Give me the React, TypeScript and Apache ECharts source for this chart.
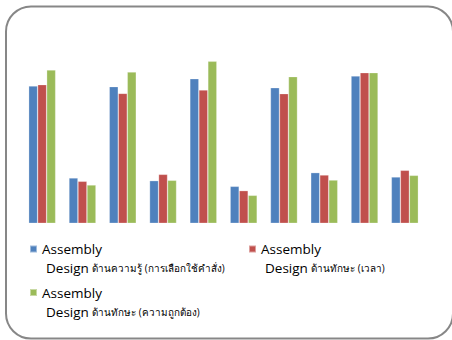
import React, { useEffect, useRef } from "react";
import * as echarts from "echarts";

const categories = ["1", "2", "3", "4", "5", "6", "7", "8", "9", "10"];
const seriesNames = [
  "Assembly Design ด้านความรู้ (การเลือกใช้คำสั่ง)",
  "Assembly Design ด้านทักษะ (เวลา)",
  "Assembly Design ด้านทักษะ (ความถูกต้อง)",
];
const knowledge = [15.26, 5.04, 15.19, 4.74, 16.07, 4.11, 15.07, 5.63, 16.37, 5.15];
const skillTime = [15.41, 4.67, 14.44, 5.44, 14.81, 3.63, 14.41, 5.37, 16.74, 5.89];
const skillAccuracy = [17.04, 4.26, 16.81, 4.78, 18.0, 3.11, 16.3, 4.81, 16.74, 5.33];
const colors = ["#4F81BD", "#C0504D", "#9BBB59"];

const values = [knowledge, skillTime, skillAccuracy];

export default function App() {
  const ref = useRef<HTMLDivElement>(null);
  useEffect(() => {
    if (!ref.current) return;
    const chart = echarts.init(ref.current, null, { renderer: "svg" });
    const legendFormatter = (name: string) => {
      const rest = name.replace("Assembly Design ", "");
      return "{a|Assembly}\n{b|Design} {c|" + rest + "}";
    };
    const legendText = {
      padding: [19, 0, 0, 0],
      rich: {
        a: { fontFamily: "Open Sans", fontSize: 13.5, color: "#000", lineHeight: 19 },
        b: { fontFamily: "Open Sans", fontSize: 13.5, color: "#000", lineHeight: 19, padding: [0, 0, 0, 4] },
        c: { fontFamily: "Open Sans", fontSize: 9.9, color: "#000", lineHeight: 19 },
      },
    };
    const legendPos = [
      { left: 29, top: 242 },
      { left: 248, top: 242 },
      { left: 29, top: 285.5 },
    ];
    chart.setOption({
      animation: false,
      graphic: [
        {
          type: "rect",
          shape: { x: 6, y: 6.5, width: 447, height: 332, r: 25 },
          style: { fill: "none", stroke: "#878787", lineWidth: 2 },
          z: 0,
        },
      ],
      grid: { left: 22, right: 27, top: 43.3, bottom: 116.7 },
      xAxis: {
        type: "category",
        data: categories,
        show: false,
      },
      yAxis: {
        type: "value",
        min: 0,
        max: 20,
        show: false,
        splitLine: { show: false },
      },
      legend: legendPos.map((p, i) => ({
        data: [seriesNames[i]],
        left: p.left,
        top: p.top,
        padding: 0,
        icon: "rect",
        itemWidth: 7,
        itemHeight: 7,
        selectedMode: false,
        formatter: legendFormatter,
        textStyle: legendText,
      })),
      series: seriesNames.map((n, i) => ({
        type: "bar",
        name: n,
        data: values[i],
        barGap: "0%",
        barCategoryGap: "33%",
        itemStyle: {
          color: colors[i],
          borderColor: "rgba(255,255,255,0.45)",
          borderWidth: 0.6,
        },
      })),
    });
    return () => chart.dispose();
  }, []);
  return (
    <div
      ref={ref}
      style={{ position: "absolute", left: 0, top: 0, width: 452, height: 340, background: "#fff" }}
    />
  );
}
